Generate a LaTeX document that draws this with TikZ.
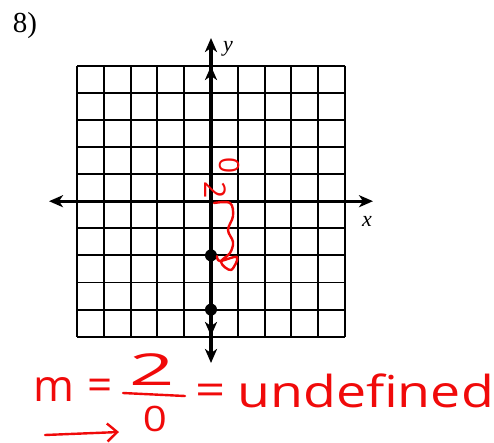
\documentclass[tikz,border=0pt]{standalone}
\usepackage{fontspec}
\setmainfont{Liberation Serif}
\newfontfamily\handfont{Open Sans}
\usepackage{tikz}
\usetikzlibrary{arrows.meta,positioning,calc}
\definecolor{inkred}{RGB}{240, 10, 10}

\begin{document}
\begin{tikzpicture}[x=1pt, y=-1pt,
  gridline/.style={black, line width=1.9pt},
  axisline/.style={black, line width=3.2pt},
  axistip/.style={-{Stealth[length=14pt, width=12pt, inset=4pt]}},
  dot/.style={circle, fill=black, inner sep=0pt, minimum size=12pt},
  label/.style={font=\fontsize{22}{22}\selectfont\itshape, inner sep=0pt},
  ink/.style={draw=inkred, line width=2.4pt, line cap=round, line join=round},
  hand/.style={text=inkred, font=\handfont\fontsize{44}{44}\selectfont, inner sep=0pt}
]
  \useasboundingbox (0,0) rectangle (494,442);

  % Problem number
  \node [font=\fontsize{29}{29}\selectfont, inner sep=0pt] (num) at (25,26) {8)};

  % Grid 10 x 10
  \foreach \i in {0,...,10} {
    \draw [gridline] (77+\i*26.8,65.7) -- (77+\i*26.8,336.7);
    \draw [gridline] (77,65.7+\i*27.1) -- (345,65.7+\i*27.1);
  }

  % Axes
  \coordinate (O) at (211,201.2);
  \coordinate (ytop) at (211,38);
  \coordinate (yedge) at (211,66);
  \coordinate (ybot) at (211,363);
  \coordinate (yedgeb) at (211,336);
  \coordinate (xleft) at (49,201.2);
  \coordinate (xright) at (373,201.2);
  \draw [axisline, axistip] (O) -- (ytop);
  \draw [axisline, axistip] (O) -- (yedge);
  \draw [axisline, axistip] (O) -- (ybot);
  \draw [axisline, axistip] (O) -- (yedgeb);
  \draw [axisline, axistip] (O) -- (xleft);
  \draw [axisline, axistip] (O) -- (xright);
  \node [label] (ylab) at (228,49) {y};
  \node [label] (xlab) at (367,221) {x};

  % Points
  \node [dot] (p1) at (211,255.4) {};
  \node [dot] (p2) at (211,309.6) {};

  % Rise marked by hand
  \node [hand, font=\handfont\fontsize{28}{28}\selectfont, rotate=90] (zero) at (229,165) {0};
  \node [hand, font=\handfont\fontsize{30}{30}\selectfont, rotate=-90] (two) at (215,190) {2};
  \draw [ink] plot [smooth, tension=0.6] coordinates {(214,203) (230,203) (233,216) (228,230) (233,242) (230,253) (221,262) (231,270) (237,257) (220,261) (217,256)};

  % Slope
  \node [hand] (m) at (54,390) {m};
  \node [hand, right=13pt of m] (eq1) {=};
  \node [hand, xscale=1.8] (top) at (152,370) {2};
  \coordinate (barl) at (123,393);
  \coordinate (barr) at (185,396);
  \draw [ink] (barl) -- (barr);
  \node [hand, font=\handfont\fontsize{35}{35}\selectfont, xscale=1.2] (bottom) at (155,419) {0};
  \node [hand, xscale=1.2] (eq2) at (211,395) {=};
  \node [hand, anchor=west, xscale=1.22] (undef) at (237,391) {undefined};

  % Arrow under the slope
  \coordinate (arrs) at (45,435);
  \coordinate (arre) at (119,432);
  \draw [ink, -{Straight Barb[length=10pt, width=18pt]}] (arrs) -- (arre);

\end{tikzpicture}
\end{document}
